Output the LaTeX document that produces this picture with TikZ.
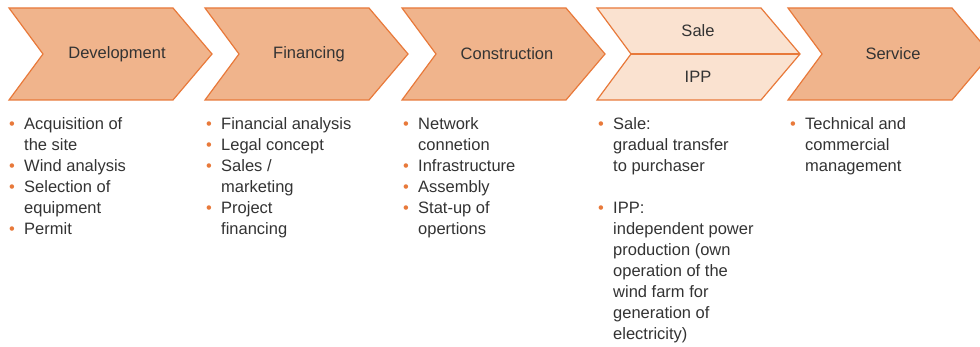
\documentclass[tikz,border=0pt]{standalone}
\usepackage{fontspec}
\setmainfont{Liberation Sans}
\usepackage{xcolor}
\usetikzlibrary{positioning}
\definecolor{chevfill}{HTML}{F0B48C}
\definecolor{chevline}{HTML}{E8793A}
\definecolor{salefill}{HTML}{FAE2D0}
\definecolor{txt}{HTML}{333333}
\tikzset{font={\fontsize{16.5pt}{21pt}\selectfont}}
\newcommand{\bul}{\makebox[15pt][l]{\textcolor{chevline}{•}}}
\newcommand{\ind}{\hspace*{15pt}}

\begin{document}
\begin{tikzpicture}[x=1pt,y=-1pt,
chevron/.pic={\draw[line width=1.2pt,draw=chevline,pic actions](0,0) -- (164,0) -- (203,46) -- (164,92) -- (0,92) -- (34,46) -- cycle;
\coordinate (-notch) at (34,46);
\coordinate (-tip) at (203,46);},
head/.style={text=txt,inner sep=0pt},
lst/.style={text=txt,align=left,anchor=north west,inner sep=0pt}
]
\useasboundingbox (0,0) rectangle (980,347);
\foreach \x in {9,205,402,788}\pic[fill=chevfill] at (\x,8){chevron};
\pic[fill=salefill] (s) at (597,8){chevron};
\draw[line width=1.2pt,draw=chevline] (s-notch) -- (s-tip);

\node[head] (dev) at (117,54) {Development};
\node[head] (fin) at (309,54) {Financing};
\node[head] (con) at (507,54) {Construction};
\node[head] (sale) at (698,31) {Sale};
\node[head] (ipp) at (698,77) {IPP};
\node[head] (ser) at (893,54) {Service};

%lists
\node[lst] (devlist) at (9,117) {\bul Acquisition of\\ \ind the site\\ \bul Wind analysis\\ \bul Selection of\\ \ind equipment\\ \bul Permit};
\node[lst] (finlist) at (206,117) {\bul Financial analysis\\ \bul Legal concept\\ \bul Sales /\\ \ind marketing\\ \bul Project\\ \ind financing};
\node[lst] (conlist) at (403,117) {\bul Network\\ \ind connetion\\ \bul Infrastructure\\ \bul Assembly\\ \bul Stat-up of\\ \ind opertions};
\node[lst] (salelist) at (598,117) {\bul Sale:\\ \ind gradual transfer\\ \ind to purchaser\\ ~\\ \bul IPP:\\ \ind independent power\\ \ind production (own\\ \ind operation of the\\ \ind wind farm for\\ \ind generation of\\ \ind electricity)};
\node[lst] (serlist) at (790,117) {\bul Technical and\\ \ind commercial\\ \ind management};

\end{tikzpicture}
\end{document}
